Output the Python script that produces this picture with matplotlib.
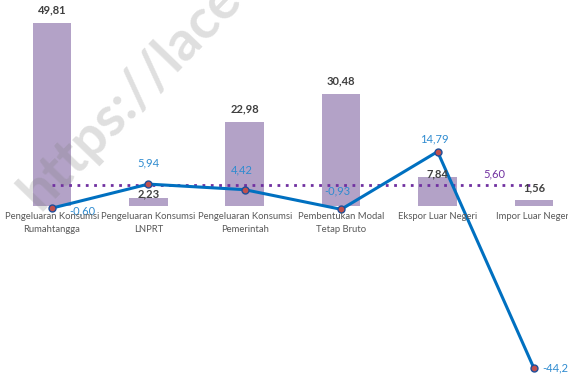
import numpy as np
import matplotlib.pyplot as plt

plt.rcParams['font.family'] = ['Lato', 'DejaVu Sans']

categories = ["Pengeluaran Konsumsi\nRumahtangga", "Pengeluaran Konsumsi\nLNPRT",
              "Pengeluaran Konsumsi\nPemerintah", "Pembentukan Modal\nTetap Bruto",
              "Ekspor Luar Negeri", "Impor Luar Negeri"]
shares = [49.81, 2.23, 22.98, 30.48, 7.84, 1.56]
growth = [-0.60, 5.94, 4.42, -0.93, 14.79, -44.24]
total_growth = 5.60


def fmt(v):
    return f"{v:.2f}".replace(".", ",")


fig = plt.figure(figsize=(5.68, 3.74), dpi=100)
ax = fig.add_axes([0, 0, 1, 1])
x = np.arange(len(categories))

ax.bar(x, shares, width=0.4, color="#B3A2C7", zorder=1)
# gap (points) between bar top and its label
bar_gaps = [5.5, -1, 5.5, 5.5, -1.5, 5]
for xi, v, g in zip(x, shares, bar_gaps):
    ax.annotate(fmt(v), (xi, v), xytext=(0, g), textcoords="offset points",
                ha="center", va="bottom", fontsize=8, fontweight="bold",
                color="#404040", zorder=5)

ax.plot([x[0], x[-1]], [total_growth, total_growth], color="#7030A0",
        linestyle=(0, (1, 2)), linewidth=2, zorder=2)
ax.text(4.59, total_growth + 1.6, fmt(total_growth), ha="center", va="bottom",
        fontsize=8, color="#7030A0")

ax.plot(x, growth, color="#0070C0", linewidth=2.2, marker="o", markersize=5,
        markerfacecolor="#C0504D", markeredgecolor="#1F4E9A", zorder=3)

# label offsets (points) for the growth series
offsets = [(22, -2), (0, 15), (-2, 14), (-3, 13), (-2, 9), (6, 0)]
aligns = ["center", "center", "center", "center", "center", "left"]
for xi, v, off, ha in zip(x, growth, offsets, aligns):
    ax.annotate(fmt(v), (xi, v), xytext=off, textcoords="offset points",
                ha=ha, va="center", fontsize=8, color="#2E8BD0", zorder=5)

for xi, c in zip(x, categories):
    ax.text(xi, -1.6, c, ha="center", va="top", fontsize=6.8, color="#595959",
            linespacing=1.6, zorder=5)

# watermark
fig.text(40 / 568, 1 - 212 / 374, "https://lace", fontsize=40, fontweight="bold",
         color="#808080", alpha=0.25, rotation=46, rotation_mode="anchor",
         ha="left", va="baseline", zorder=10)

ax.set_xlim(-0.539, 5.353)
ax.set_ylim(-45.8, 56.1)
ax.axis("off")

fig.savefig("out.png", dpi=100)
